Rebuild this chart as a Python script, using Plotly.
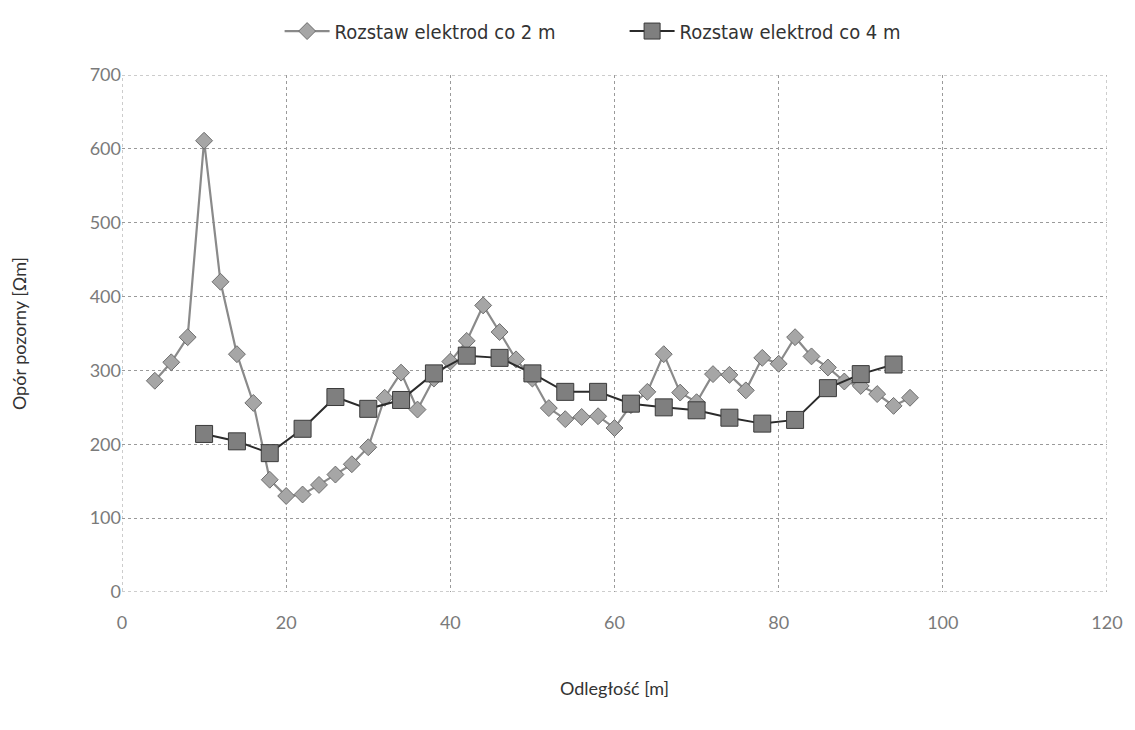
import plotly.graph_objects as go

# Electrode spacing 2 m: profile distance [m] and apparent resistivity [Ohm m]
dist_2m = [4, 6, 8, 10, 12, 14, 16, 18, 20, 22, 24, 26, 28, 30, 32, 34, 36, 38,
           40, 42, 44, 46, 48, 50, 52, 54, 56, 58, 60, 62, 64, 66, 68, 70, 72,
           74, 76, 78, 80, 82, 84, 86, 88, 90, 92, 94, 96]
res_2m = [286, 311, 345, 611, 420, 322, 256, 152, 130, 132, 145, 159, 173, 196,
          263, 297, 247, 289, 312, 340, 388, 352, 315, 289, 249, 234, 237, 238,
          222, 253, 271, 322, 270, 257, 295, 294, 273, 317, 309, 345, 319, 304,
          285, 279, 268, 252, 263]

# Electrode spacing 4 m
dist_4m = [10, 14, 18, 22, 26, 30, 34, 38, 42, 46, 50, 54, 58, 62, 66, 70, 74,
           78, 82, 86, 90, 94]
res_4m = [214, 204, 188, 221, 264, 248, 260, 296, 320, 317, 296, 271, 271, 255,
          250, 246, 236, 228, 233, 276, 295, 308]

x_ticks = [0, 20, 40, 60, 80, 100, 120]
y_ticks = [0, 100, 200, 300, 400, 500, 600, 700]

label_font = "Lato, 'Open Sans', sans-serif"
narrow_font = "'Liberation Sans Narrow', 'DejaVu Sans Condensed', sans-serif"

fig = go.Figure()

fig.add_trace(go.Scatter(
    x=dist_2m, y=res_2m, mode="lines+markers",
    name="Rozstaw elektrod co 2 m",
    line=dict(color="#8a8a8a", width=2.2),
    marker=dict(symbol="diamond", size=13, color="#a6a6a6",
                line=dict(color="#6e6e6e", width=1)),
))

fig.add_trace(go.Scatter(
    x=dist_4m, y=res_4m, mode="lines+markers",
    name="Rozstaw elektrod co 4 m",
    line=dict(color="#2b2b2b", width=2),
    marker=dict(symbol="square", size=17, color="#7f7f7f",
                line=dict(color="#3a3a3a", width=1)),
))

grid = dict(showgrid=True, gridcolor="#9a9a9a", griddash="dot", gridwidth=1,
            zeroline=False, showline=False, ticks="")

fig.update_xaxes(
    range=[0, 120], tickvals=x_ticks, ticktext=[str(v) for v in x_ticks],
    ticklabelstandoff=18,
    title=dict(text="Odległość [m]", font=dict(size=18, color="#333333",
                                             family=label_font), standoff=50),
    tickfont=dict(size=18, color="#7a7a7a", family=label_font),
    **grid,
)
fig.update_yaxes(
    range=[0, 700], tickvals=y_ticks, ticktext=[str(v) for v in y_ticks],
    title=dict(text="Opór pozorny [Ωm]", font=dict(size=18, color="#333333",
                                                 family=label_font), standoff=58),
    tickfont=dict(size=18, color="#7a7a7a", family=label_font),
    **grid,
)

fig.add_shape(type="rect", xref="x", yref="y", x0=0, x1=120, y0=0, y1=700,
              line=dict(color="#9a9a9a", width=1, dash="dot"), layer="below")

fig.update_layout(
    width=1135, height=730,
    margin=dict(l=122, r=24, t=70, b=138),
    paper_bgcolor="white", plot_bgcolor="white",
    font=dict(family=label_font, color="#333333"),
    showlegend=True,
    legend=dict(orientation="h", x=0.16, xanchor="left", y=1.085,
                yanchor="middle", font=dict(size=20, color="#333333",
                                            family=narrow_font),
                itemwidth=45, entrywidth=285),
)

fig.write_html("out.html")
